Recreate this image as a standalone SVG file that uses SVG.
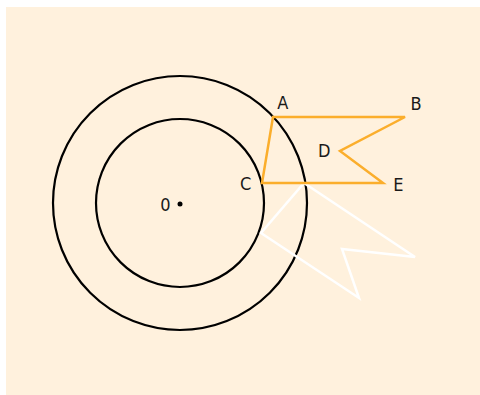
<svg xmlns="http://www.w3.org/2000/svg" width="480" height="395" viewBox="0 0 480 395">
<style>
.lbl{font-family:"DejaVu Sans Condensed","Liberation Sans Narrow","Liberation Sans",sans-serif;font-size:18px;fill:#1a1a1a;text-anchor:middle}
.circ{fill:none;stroke:#000;stroke-width:2.2}
.flag{fill:none;stroke:#FBAE2C;stroke-width:2.5;stroke-linejoin:miter}
.ghost{fill:none;stroke:#FFFFFF;stroke-width:2.5;stroke-linejoin:miter}
</style>
<rect x="6" y="7" width="474" height="388" fill="#FFF1DD"/>
<g id="outer-circle"><circle class="circ" cx="180" cy="203" r="127"/></g>
<g id="inner-circle"><circle class="circ" cx="180" cy="203" r="84"/></g>
<g id="rotated-flag"><polygon class="ghost" points="304,183 415,257 342,249 359,298 261,233"/></g>
<g id="flag"><polygon class="flag" points="273,117 405,117 340,151 383,183 262,183"/></g>
<g id="center"><circle cx="180" cy="204" r="2.5" fill="#000"/><text class="lbl" x="165.5" y="210.5">0</text></g>
<g id="labels">
<text class="lbl" x="282.7" y="108.5">A</text>
<text class="lbl" x="416" y="110">B</text>
<text class="lbl" x="324.3" y="157.3">D</text>
<text class="lbl" x="245.7" y="190">C</text>
<text class="lbl" x="398.3" y="191">E</text>
</g>
<g id="connectors"></g>
</svg>
